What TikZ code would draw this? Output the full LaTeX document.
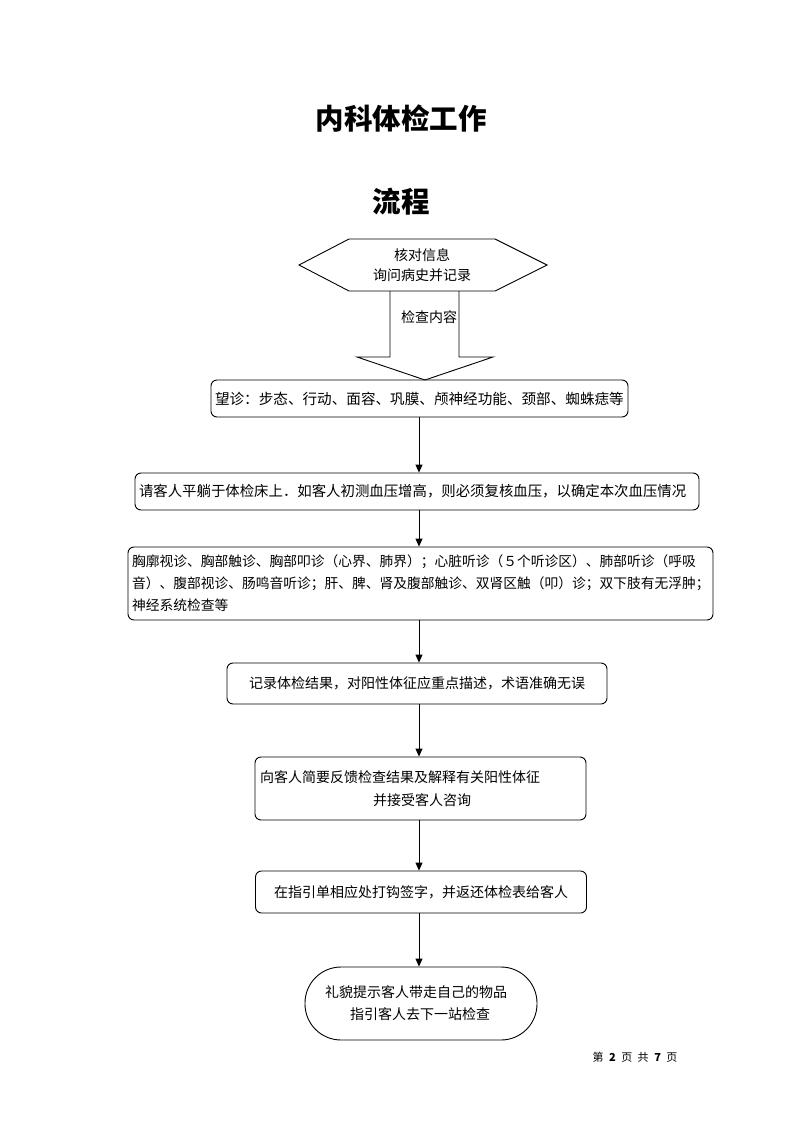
\documentclass[tikz,border=0pt]{standalone}
\usepackage{fontspec}
\setmainfont{Noto Sans CJK SC}
\usetikzlibrary{arrows.meta}
\tikzset{
  box/.style={draw, line width=0.9pt, rounded corners=6pt, inner ysep=0pt, font=\fontsize{14}{22}\selectfont},
  conn/.style={draw, line width=0.9pt, -{Triangle[length=8pt,width=7pt]}},
  outline/.style={draw, line width=0.9pt, line join=miter},
}
\newcommand{\fsp}{\hspace{5.5pt}}
\begin{document}
\begin{tikzpicture}[x=1pt,y=-1pt]
\useasboundingbox (0,0) rectangle (800,1132);
% titles
\node[font=\fontsize{28.5}{30}\selectfont\bfseries] (t1) at (401,118) {内科体检工作};
\node[font=\fontsize{28.5}{30}\selectfont\bfseries] (t2) at (401,202) {流程};
% hexagon
\coordinate (hL) at (299,265);
\coordinate (hTL) at (349,239);
\coordinate (hTR) at (495,239);
\coordinate (hR) at (547,265);
\coordinate (hBR) at (495,291);
\coordinate (hBL) at (349,291);
\draw[outline] (hL) -- (hTL) -- (hTR) -- (hR) -- (hBR) -- (hBL) -- cycle;
\node[align=center, font=\fontsize{14}{20}\selectfont] (hex) at (422,265) {核对信息\\询问病史并记录};
% big arrow
\draw[outline] (390,291) -- (390,357) -- (357,357) -- (425,380) -- (493,357) -- (459,357) -- (459,291);
\node[font=\fontsize{14}{16}\selectfont] (lbl) at (429,317) {检查内容};
% boxes
\node[box, minimum width=417pt, minimum height=37pt, text width=409pt, inner xsep=4pt, align=left, font=\fontsize{14.6}{20}\selectfont] (b1) at (419.5,398.5) {望诊：步态、行动、面容、巩膜、颅神经功能、颈部、蜘蛛痣等};
\node[box, minimum width=564pt, minimum height=37pt, text width=556pt, inner xsep=4pt, align=left, font=\fontsize{14.4}{20}\selectfont] (b2) at (417,491.5) {请客人平躺于体检床上．如客人初测血压增高，则必须复核血压，以确定本次血压情况};
\node[box, minimum width=585pt, minimum height=73pt, text width=577pt, inner xsep=4pt, align=left, font=\fontsize{13.75}{22}\selectfont] (b3) at (420.5,583.5) {胸廓视诊、胸部触诊、胸部叩诊（心界、肺界）；心脏听诊（５个听诊区）、肺部听诊（呼吸\\音）、腹部视诊、肠鸣音听诊；肝、脾、肾及腹部触诊、双肾区触（叩）诊；双下肢有无浮肿；\\神经系统检查等};
\node[box, minimum width=380pt, minimum height=41pt, align=center] (b4) at (417,683.5) {记录体检结果，对阳性体征应重点描述，术语准确无误};
\node[box, minimum width=331pt, minimum height=63pt, text width=321pt, inner xsep=5pt, align=left, font=\fontsize{14}{23}\selectfont] (b5) at (420.5,788.5) {向客人简要反馈检查结果及解释有关阳性体征\\\hspace*{113pt}并接受客人咨询};
\node[box, minimum width=331pt, minimum height=42pt, align=center] (b6) at (421,892) {在指引单相应处打钩签字，并返还体检表给客人};
\node[box, rounded corners=36pt, minimum width=232pt, minimum height=73pt, text width=192pt, inner xsep=20pt, align=left] (b7) at (421,1003.5) {礼貌提示客人带走自己的物品\\\hspace*{25pt}指引客人去下一站检查};
% connectors
\draw[conn] (b1.south -| 419,0) -- (b2.north -| 419,0);
\draw[conn] (b2.south -| 419,0) -- (b3.north -| 419,0);
\draw[conn] (b3.south -| 419,0) -- (b4.north -| 419,0);
\draw[conn] (b4.south -| 419,0) -- (b5.north -| 419,0);
\draw[conn] (b5.south -| 419,0) -- (b6.north -| 419,0);
\draw[conn] (b6.south -| 419,0) -- (b7.north -| 419,0);
% footer
\node[font=\fontsize{11}{12}\selectfont] (foot) at (635,1057) {第\fsp\textbf{2}\fsp 页\fsp 共\fsp\textbf{7}\fsp 页};
\end{tikzpicture}
\end{document}
